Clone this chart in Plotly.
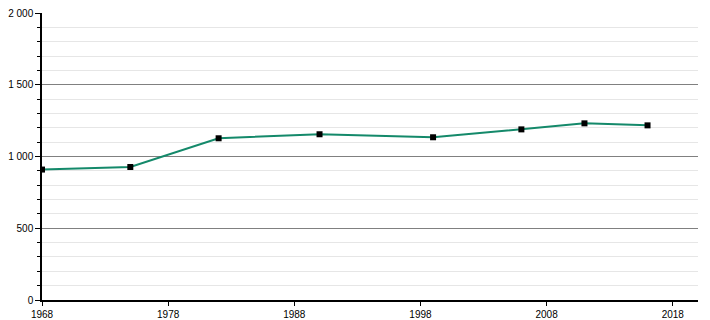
import plotly.graph_objects as go

years = [1968, 1975, 1982, 1990, 1999, 2006, 2011, 2016]
population = [909, 927, 1127, 1155, 1134, 1189, 1231, 1217]
y_tick_vals = [0, 500, 1000, 1500, 2000]
y_tick_text = ["0", "500", "1 000", "1 500", "2 000"]
x_tick_vals = [1968, 1978, 1988, 1998, 2008, 2018]

fig = go.Figure()
fig.add_trace(go.Scatter(
    x=years, y=population, mode="lines",
    line=dict(color="#14896a", width=2),
    hoverinfo="skip", showlegend=False,
))
fig.add_trace(go.Scatter(
    x=years, y=population, mode="markers",
    marker=dict(symbol="square", size=6, color="black"),
    showlegend=False,
))

fig.update_layout(
    width=710, height=320,
    margin=dict(l=42, r=12, t=13, b=20, autoexpand=False),
    paper_bgcolor="white", plot_bgcolor="white",
    font=dict(family="Liberation Sans, Arial", size=10, color="black"),
)
fig.update_xaxes(
    range=[1968, 2020], tickvals=x_tick_vals, automargin=False,
    showgrid=False, zeroline=False,
    showline=True, linecolor="black", linewidth=1.5,
    ticks="outside", ticklen=4, tickcolor="black",
)
fig.update_yaxes(
    range=[0, 2000], tickvals=y_tick_vals, ticktext=y_tick_text, automargin=False,
    showgrid=True, gridcolor="#808080", gridwidth=1,
    zeroline=False,
    showline=True, linecolor="black", linewidth=1.5,
    ticks="outside", ticklen=5, tickcolor="black",
    minor=dict(dtick=100, showgrid=True, gridcolor="#e6e6e6", gridwidth=1,
               ticks="outside", ticklen=3, tickcolor="black"),
)

fig.write_html("out.html")
